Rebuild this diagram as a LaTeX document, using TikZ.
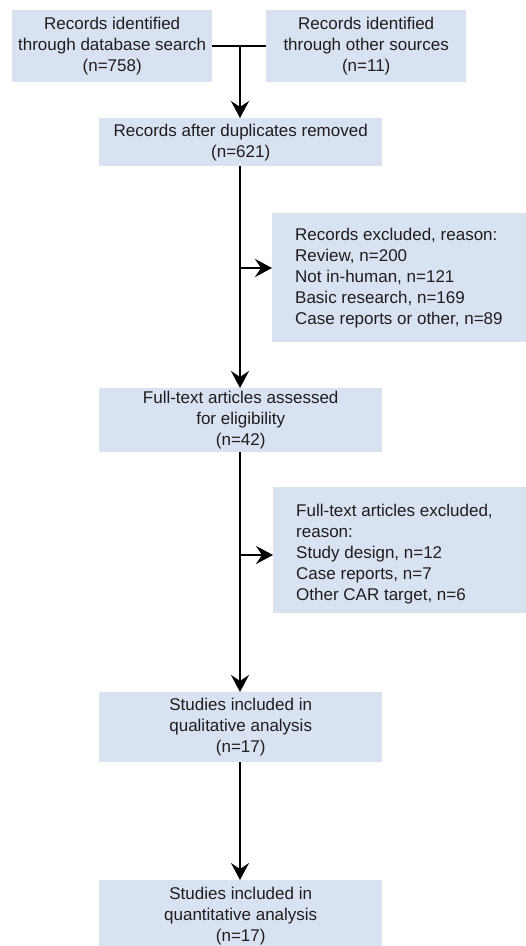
\documentclass[tikz,border=0pt]{standalone}
\usepackage{fontspec}
\setmainfont{Liberation Sans}
\usetikzlibrary{arrows.meta}
\definecolor{boxfill}{RGB}{217,226,241}
\definecolor{txt}{RGB}{30,30,30}
\begin{document}
\begin{tikzpicture}[x=1pt,y=-1pt,
  pbox/.style={fill=boxfill, draw=none, anchor=north west, inner sep=0pt,
    align=center, text=txt, font=\fontsize{17}{21}\selectfont},
  ptext/.style={anchor=west, inner sep=0pt, align=left, text=txt,
    font=\fontsize{17}{21}\selectfont},
  conn/.style={line width=2.4pt, draw=black},
  arr/.style={conn, -{Stealth[length=17pt,width=18pt,inset=6pt]}}]
\useasboundingbox (0,0) rectangle (526,946);
\node[pbox, minimum width=200pt, minimum height=72pt] (b1) at (12,10)
  {Records identified\\through database search\\(n=758)};
\node[pbox, minimum width=200pt, minimum height=72pt] (b2) at (266,10)
  {Records identified\\through other sources\\(n=11)};
\node[pbox, minimum width=283pt, minimum height=48pt] (b3) at (99,118)
  {Records after duplicates removed\\(n=621)};
\node[pbox, minimum width=254pt, minimum height=129pt] (e1) at (272,213) {};
\node[ptext] (e1t) at ([xshift=23pt,yshift=0pt]e1.west)
  {Records excluded, reason:\\Review, n=200\\Not in-human, n=121\\Basic research, n=169\\Case reports or other, n=89};
\node[pbox, minimum width=283pt, minimum height=64pt] (b4) at (99,388)
  {Full-text articles assessed\\for eligibility\\(n=42)};
\node[pbox, minimum width=254pt, minimum height=126pt] (e2) at (273,487) {};
\node[ptext] (e2t) at ([xshift=23pt,yshift=-4pt]e2.west)
  {Full-text articles excluded,\\reason:\\Study design, n=12\\Case reports, n=7\\Other CAR target, n=6};
\node[pbox, minimum width=283pt, minimum height=70pt] (b5) at (99,692)
  {Studies included in\\qualitative analysis\\(n=17)};
\node[pbox, minimum width=283pt, minimum height=72pt] (b6) at (99,880)
  {Studies included in\\quantitative analysis\\(n=17)};
% connectors
\coordinate (j) at (240,46);
\draw[conn] (b1.east) -- (b2.west);
\draw[arr] (j) -- (j |- b3.north);
\coordinate (s3) at (240,166);
\draw[arr] (s3) -- (s3 |- b4.north);
\coordinate (k1) at (240,268);
\draw[arr] (k1) -- (k1 -| e1.west);
\coordinate (s4) at (240,452);
\draw[arr] (s4) -- (s4 |- b5.north);
\coordinate (k2) at (240,555);
\draw[arr] (k2) -- (k2 -| e2.west);
\coordinate (s5) at (240,762);
\draw[arr] (s5) -- (s5 |- b6.north);
\end{tikzpicture}
\end{document}
